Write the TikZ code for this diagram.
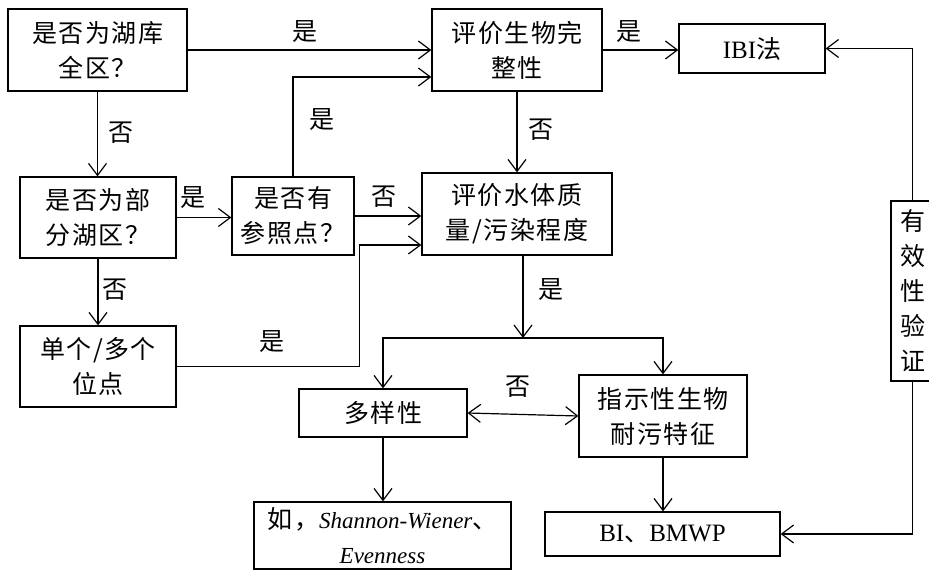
\documentclass[tikz,border=0pt]{standalone}
\usepackage{fontspec}
\setmainfont{Liberation Serif}
\newfontfamily\cjk[LetterSpace=6]{Noto Sans CJK SC}
\newfontfamily\lserif{Liberation Serif}
\usetikzlibrary{arrows.meta,calc}
\newcommand\cjkfont{\cjk\fontsize{25}{35}\selectfont}
\newcommand\latfont{\lserif\fontsize{25}{35}\selectfont}
\newcommand\latit{\lserif\itshape\fontsize{23}{33}\selectfont}
\begin{document}
\begin{tikzpicture}[x=1pt,y=-1pt,
  box/.style={draw, line width=1.2pt, inner sep=0pt, align=center, font=\cjkfont},
  lab/.style={inner sep=0pt, font=\cjkfont},
  arr/.style={line width=1.2pt, -{Straight Barb[length=12pt,width=18pt,line width=1.2pt]}},
  darr/.style={line width=1.2pt, {Straight Barb[length=12pt,width=18pt,line width=1.2pt]}-{Straight Barb[length=12pt,width=18pt,line width=1.2pt]}}]
\path[use as bounding box, fill=white] (0,0) rectangle (929,570);

\node[box, minimum width=179pt, minimum height=82pt] (A) at (97.5,50) {是否为湖库\\全区？};
\node[box, minimum width=170pt, minimum height=82pt] (B) at (517,50) {评价生物完\\整性};
\node[box, minimum width=146pt, minimum height=49pt] (IBI) at (752,48.5) {{\latfont IBI}法};
\node[box, minimum width=156pt, minimum height=81pt] (C) at (98,217.5) {是否为部\\分湖区？};
\node[box, minimum width=122pt, minimum height=78pt] (D) at (293,216) {是否有\\参照点？};
\node[box, minimum width=190pt, minimum height=82pt] (E) at (517,214) {评价水体质\\量/污染程度};
\node[box, minimum width=156pt, minimum height=81pt] (F) at (98,366.5) {单个/多个\\位点};
\node[box, minimum width=168pt, minimum height=48pt] (G) at (383,413) {多样性};
\node[box, minimum width=168pt, minimum height=82pt] (H) at (663,416) {指示性生物\\耐污特征};
\node[box, minimum width=257pt, minimum height=67pt] (I) at (382.5,535.5) {如，{\latit Shannon-Wiener}、\\{\latit Evenness}};
\node[box, minimum width=235pt, minimum height=44pt] (J) at (662.5,534) {{\latfont BI}、{\latfont BMWP}};
\node[box, minimum width=43pt, minimum height=180pt] (K) at (912.5,291) {有\\效\\性\\验\\证};

\coordinate (split) at (523,338);

% connectors
\draw[arr] (A.east) -- (A.east -| B.west);
\draw[arr] (B.east) -- (B.east -| IBI.west);
\draw[arr] (A.south) -- (A.south |- C.north);
\draw[arr] (C.south) -- (C.south |- F.north);
\draw[arr] (C.east) -- (C.east -| D.west);
\draw[arr] (D.north) |- ($(B.west)+(0,27)$);
\draw[arr] (D.east) -- (D.east -| E.west);
\draw[arr] (F.east) -- ++(183,0) |- ($(E.west)+(0,31)$);
\draw[arr] (B.south) -- (E.north);
\draw[arr] ($(E.south)+(6,0)$) -- (split);
\draw[arr] (split) -| (G.north);
\draw[arr] (split) -| (H.north);
\draw[darr] (G.east) -- (H.west);
\draw[arr] (G.south) -- (G.south |- I.north);
\draw[arr] (H.south) -- (H.south |- J.north);
\draw[arr] (K.north) |- (IBI.east);
\draw[arr] (K.south) |- (J.east);

% labels
\node[lab] (l1) at (305,32) {是};
\node[lab] (l2) at (121,133) {否};
\node[lab] (l3) at (193,198) {是};
\node[lab] (l4) at (322,120) {是};
\node[lab] (l5) at (384,197) {否};
\node[lab] (l6) at (272,342) {是};
\node[lab] (l7) at (541,130) {否};
\node[lab] (l8) at (551,290) {是};
\node[lab] (l9) at (518,387) {否};
\node[lab] (l10) at (115,290) {否};
\node[lab] (l11) at (629,32) {是};
\end{tikzpicture}
\end{document}
